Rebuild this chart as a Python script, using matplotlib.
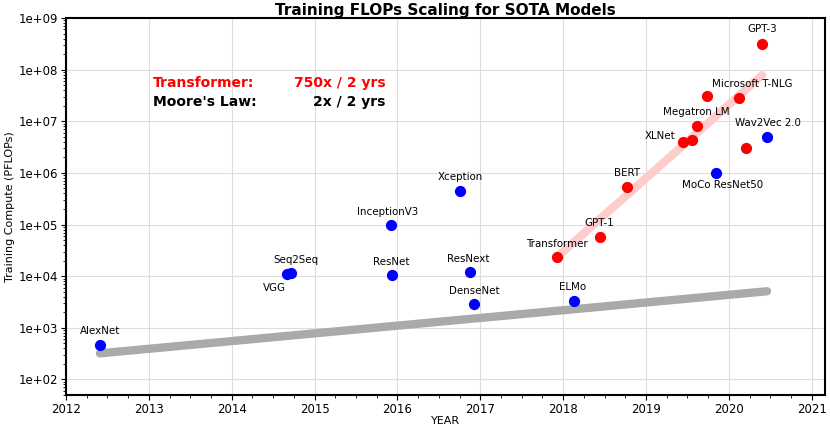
import matplotlib

matplotlib.use("Agg")
import matplotlib.pyplot as plt
from matplotlib.ticker import AutoMinorLocator, LogLocator, FuncFormatter, MultipleLocator

# model name, year, training compute (PFLOPs), label offset in pixels
blue_names = ["AlexNet", "Seq2Seq", "VGG", "InceptionV3", "ResNet", "Xception",
              "ResNext", "DenseNet", "ELMo", "MoCo ResNet50", "Wav2Vec 2.0"]
blue_years = [2012.41, 2014.72, 2014.67, 2015.92, 2015.94, 2016.76,
              2016.87, 2016.92, 2018.13, 2019.85, 2020.46]
blue_flops = [4.6e2, 1.15e4, 1.1e4, 1.0e5, 1.04e4, 4.4e5,
              1.19e4, 2.84e3, 3.25e3, 9.8e5, 4.9e6]
blue_offsets = [(0, 14), (5, 13), (-13, -14), (-3, 13), (-1, 13), (0, 14),
                (-1, 13), (1, 13), (-1, 14), (6, -12), (1, 14)]

red_names = ["Transformer", "GPT-1", "BERT", "XLNet", "", "Megatron LM",
             "", "Microsoft T-NLG", "GPT-3", ""]
red_years = [2017.92, 2018.44, 2018.77, 2019.45, 2019.56, 2019.61,
             2019.73, 2020.12, 2020.40, 2020.21]
red_flops = [2.31e4, 5.65e4, 5.25e5, 3.9e6, 4.3e6, 8.0e6,
             3.05e7, 2.8e7, 3.1e8, 3.1e6]
red_offsets = [(0, 13), (0, 14), (0, 14), (-23, 6), (0, 0), (0, 14),
               (0, 0), (13, 14), (0, 15), (0, 0)]

moore_years = [2012.41, 2020.46]
moore_flops = [3.2e2, 5.1e3]
trans_years = [2017.92, 2020.40]
trans_flops = [2.3e4, 7.8e7]

fig = plt.figure(figsize=(8.3, 4.33), dpi=100)
ax = fig.add_axes([0.0795, 0.0878, 0.9145, 0.8707])

ax.plot(moore_years, moore_flops, color="#aaaaaa", lw=6, solid_capstyle="round", zorder=2)
ax.plot(trans_years, trans_flops, color="#ffcccc", lw=6, solid_capstyle="round", zorder=2)

ax.scatter(blue_years, blue_flops, s=50, color="blue", zorder=3)
ax.scatter(red_years, red_flops, s=50, color="red", zorder=3)

for names, xs, ys, offs in [(blue_names, blue_years, blue_flops, blue_offsets),
                            (red_names, red_years, red_flops, red_offsets)]:
    for n, x, y, o in zip(names, xs, ys, offs):
        if n:
            ax.annotate(n, (x, y), xytext=o, textcoords="offset pixels",
                        ha="center", va="center", fontsize=7.4)

ax.set_yscale("log")
ax.set_xlim(2012, 2021.16)
ax.set_ylim(50, 1e9)
ax.xaxis.set_major_locator(MultipleLocator(1))
ax.xaxis.set_minor_locator(AutoMinorLocator(4))
ax.yaxis.set_major_locator(LogLocator(base=10, numticks=20))
ax.yaxis.set_minor_locator(LogLocator(base=10, subs=range(2, 10), numticks=20))
ax.yaxis.set_major_formatter(FuncFormatter(lambda v, p: f"{v:.0e}"))
ax.tick_params(labelsize=8.5, pad=2)
ax.grid(True, which="major", color="#dddddd", lw=0.8)
ax.set_axisbelow(True)
for s in ax.spines.values():
    s.set_linewidth(1.5)

ax.set_xlabel("YEAR", fontsize=8, labelpad=0)
ax.set_ylabel("Training Compute (PFLOPs)", fontsize=8, labelpad=3)
ax.set_title("Training FLOPs Scaling for SOTA Models", fontsize=11, fontweight="bold", pad=2)

ax.text(2013.05, 5.4e7, "Transformer:", color="red", fontsize=10, fontweight="bold", va="center")
ax.text(2015.86, 5.4e7, "750x / 2 yrs", color="red", fontsize=10, fontweight="bold", va="center", ha="right")
ax.text(2013.05, 2.4e7, "Moore's Law:", color="black", fontsize=10, fontweight="bold", va="center")
ax.text(2015.86, 2.4e7, "2x / 2 yrs", color="black", fontsize=10, fontweight="bold", va="center", ha="right")

fig.savefig("out.png", dpi=100)
